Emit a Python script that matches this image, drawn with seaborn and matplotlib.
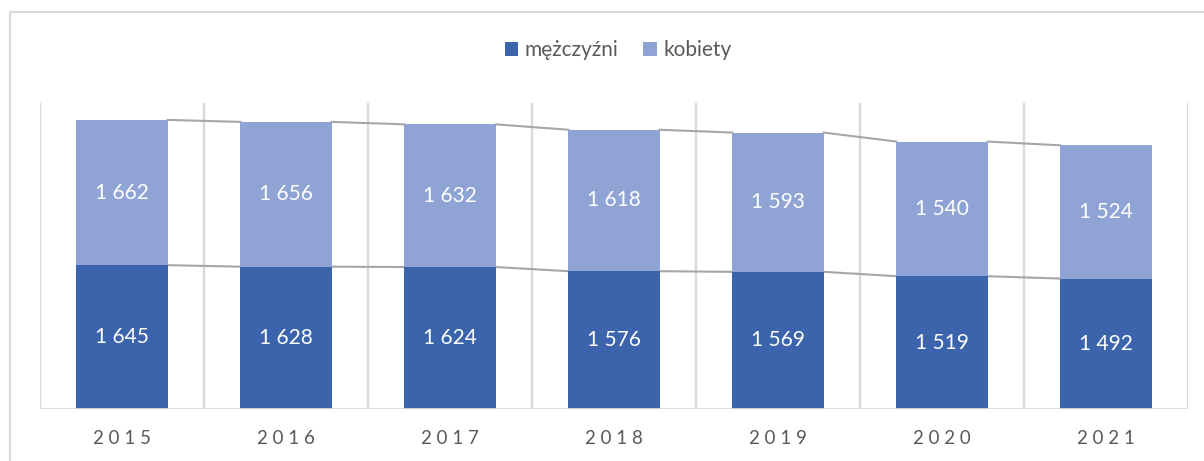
import matplotlib
matplotlib.use("Agg")
import matplotlib.pyplot as plt
import seaborn as sns
import pandas as pd
import numpy as np
from matplotlib.patches import Rectangle, Patch

years = ["2015", "2016", "2017", "2018", "2019", "2020", "2021"]
men = [1645, 1628, 1624, 1576, 1569, 1519, 1492]
women = [1662, 1656, 1632, 1618, 1593, 1540, 1524]
series_names = ["mężczyźni", "kobiety"]

c_men = "#3B64AD"
c_women = "#8FA4D4"
grid_c = "#D9D9D9"
text_c = "#595959"

sns.set_theme(style="white")
plt.rcParams["font.family"] = ["Lato", "DejaVu Sans"]

W, H = 1204, 461
fig = plt.figure(figsize=(W / 100, H / 100), dpi=100)
ax = fig.add_axes([40 / W, 1 - 409 / H, (1188 - 40) / W, (409 - 103) / H])

df = pd.DataFrame({"year": years, "men": men, "women": women})
df["total"] = df["men"] + df["women"]

bw = 0.555
sns.barplot(data=df, x="year", y="total", color=c_women, width=bw, ax=ax,
            saturation=1, edgecolor="none", zorder=3)
sns.barplot(data=df, x="year", y="men", color=c_men, width=bw, ax=ax,
            saturation=1, edgecolor="none", zorder=4)

ax.set_xlim(-0.5, len(years) - 0.5)
ax.set_ylim(0, 3500)

# vertical gridlines at category boundaries
ax.vlines(np.arange(len(years) + 1) - 0.5, 0, 3500, colors=grid_c, lw=1.6, zorder=1)
ax.axhline(0, color=grid_c, lw=2, zorder=5)

# series lines
tot = df["total"].values
for i in range(len(years) - 1):
    x0, x1 = i + bw / 2, i + 1 - bw / 2
    ax.plot([x0, x1], [men[i], men[i + 1]], color="#A6A6A6", lw=1.5, zorder=2)
    ax.plot([x0, x1], [tot[i], tot[i + 1]], color="#A6A6A6", lw=1.5, zorder=2)

def fmt(v):
    return f"{v:,}".replace(",", " ")

for i in range(len(years)):
    ax.text(i, men[i] / 2, fmt(men[i]), ha="center", va="center", color="white",
            fontsize=15, zorder=6)
    ax.text(i, men[i] + women[i] / 2, fmt(women[i]), ha="center", va="center",
            color="white", fontsize=15, zorder=6)

for s in ax.spines.values():
    s.set_visible(False)
ax.set_yticks([])
ax.set_xlabel("")
ax.set_ylabel("")
ax.set_xticks(range(len(years)))
ax.set_xticklabels([" ".join(y) for y in years], color=text_c, fontsize=13.5)
ax.tick_params(axis="x", length=0, pad=15)

handles = [Patch(facecolor=c_men, edgecolor="none"), Patch(facecolor=c_women, edgecolor="none")]
leg = fig.legend(handles, series_names, loc="center", bbox_to_anchor=(618 / W, 1 - 50 / H),
                 ncol=2, frameon=False, fontsize=15, handlelength=0.65, handleheight=0.65,
                 handletextpad=0.3, columnspacing=1.2)
for t in leg.get_texts():
    t.set_color(text_c)

fig.patches.append(Rectangle((10 / W, -0.1), 1.2, 1 - 12 / H + 0.1, transform=fig.transFigure,
                             fill=False, edgecolor=grid_c, lw=1.5))

fig.savefig("out.png", dpi=100, facecolor="white")
